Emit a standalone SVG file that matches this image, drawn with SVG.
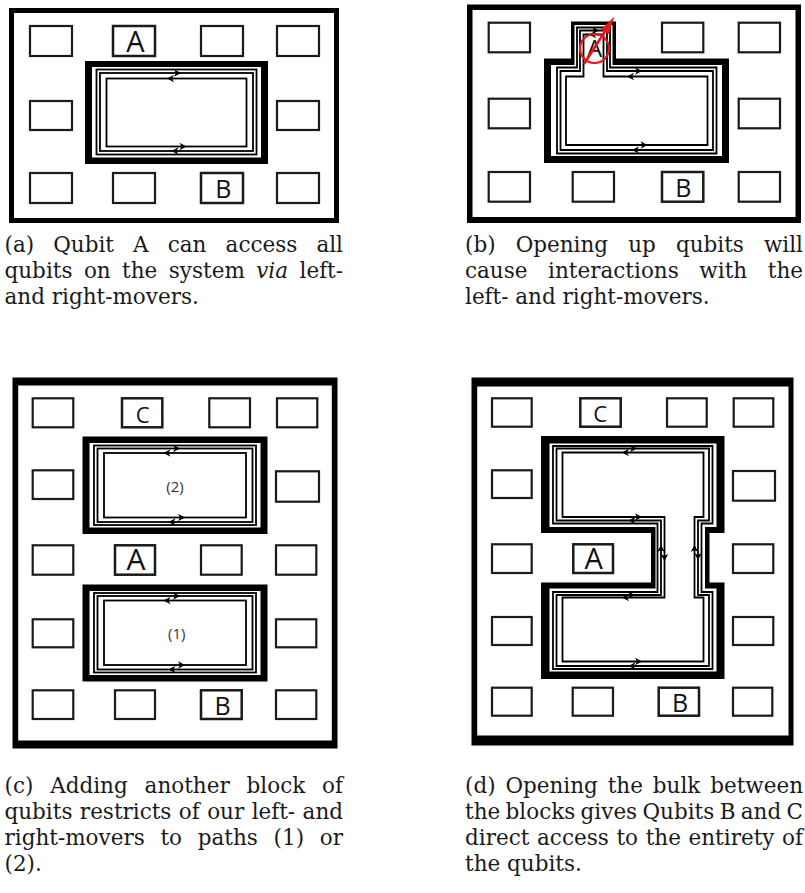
<svg xmlns="http://www.w3.org/2000/svg" xmlns:xlink="http://www.w3.org/1999/xlink" width="805" height="893" viewBox="0 0 805 893">
<style>
.bg{fill:#fff}
.frame{fill:#000;fill-rule:evenodd}
.bulk{fill:#000;fill-rule:evenodd}
.q{fill:#fff;stroke:#1a1a1a;stroke-width:2.2}
.ql{stroke-width:2.5}
.edge{fill:none;stroke:#000;stroke-width:1.8;stroke-linejoin:miter}
.lbl{font-family:"Open Sans","Noto Sans",sans-serif;fill:#111;text-anchor:middle}
.num{font-family:"Open Sans","Noto Sans",sans-serif;fill:#333;text-anchor:middle;font-size:15px}
.cap{font-family:"DejaVu Serif","Liberation Serif",serif;font-size:21.5px;fill:#1a1a1a}
.ah{fill:#000}
.red{fill:none;stroke:#e8141b;stroke-width:2.2}
</style>
<defs>
<path id="ahR" class="ah" d="M0,0 L-7,-3.8 L-5,0 L-7,3.8 Z"/>
<path id="ahL" class="ah" d="M0,0 L7,-3.8 L5,0 L7,3.8 Z"/>
<path id="ahU" class="ah" d="M0,0 L-3.8,7 L0,5 L3.8,7 Z"/>
<path id="ahD" class="ah" d="M0,0 L-3.8,-7 L0,-5 L3.8,-7 Z"/>
</defs>
<rect class="bg" x="0" y="0" width="805" height="893"/>

<!-- Panel (a) -->
<g id="panel-a">
  <path id="a-frame" class="frame" d="M9,8 H339 V223 H9 Z M14,13 V218 H334 V13 Z"/>
  <g id="a-q1"><rect class="q" x="30" y="26" width="42" height="30"/></g>
  <g id="a-qA"><rect class="q ql" x="113" y="26" width="42" height="30"/><text class="lbl" x="135.3" y="52.3" font-size="29">A</text></g>
  <g id="a-q3"><rect class="q" x="201" y="26" width="42" height="30"/></g>
  <g id="a-q4"><rect class="q" x="277" y="26" width="42" height="30"/></g>
  <g id="a-q5"><rect class="q" x="30" y="101" width="42" height="29"/></g>
  <g id="a-q6"><rect class="q" x="277" y="101" width="42" height="29"/></g>
  <g id="a-q7"><rect class="q" x="30" y="173" width="42" height="30"/></g>
  <g id="a-q8"><rect class="q" x="113" y="173" width="42" height="30"/></g>
  <g id="a-qB"><rect class="q ql" x="201" y="173" width="42" height="30"/><text class="lbl" x="223.3" y="198.3" font-size="25">B</text></g>
  <g id="a-q10"><rect class="q" x="277" y="173" width="42" height="30"/></g>
  <g id="a-bulk"><path class="bulk" d="M85,61 H268 V164 H85 Z M92,67 V157.5 H261 V67 Z"/></g>
  <g id="a-connectors">
    <rect class="edge" x="96.5" y="69.5" width="160" height="85"/>
    <rect class="edge" x="100" y="73" width="153" height="78"/>
    <rect class="edge" x="106.5" y="78.5" width="140" height="68"/>
    <use xlink:href="#ahR" x="181" y="73"/>
    <use xlink:href="#ahL" x="167" y="78.5"/>
    <use xlink:href="#ahR" x="186.5" y="146.5"/>
    <use xlink:href="#ahL" x="171.5" y="151"/>
  </g>
  <g id="a-caption">
    <text class="cap" x="4.5" y="251.5" word-spacing="12.3" textLength="338.5" lengthAdjust="spacing">(a) Qubit A can access all</text>
    <text class="cap" x="4.5" y="277.8" word-spacing="4.6" textLength="338.5" lengthAdjust="spacing">qubits on the system <tspan font-style="italic">via</tspan> left-</text>
    <text class="cap" x="4.5" y="304.1">and right-movers.</text>
  </g>
</g>

<!-- Panel (b) -->
<g id="panel-b">
  <path id="b-frame" class="frame" d="M467,4.5 H801 V223 H467 Z M472.5,10 V217 H795.5 V10 Z"/>
  <g id="b-q1"><rect class="q" x="488.7" y="22.7" width="41.3" height="29.6"/></g>
  <g id="b-q3"><rect class="q" x="662" y="22.7" width="41.3" height="29.6"/></g>
  <g id="b-q4"><rect class="q" x="738.7" y="22.7" width="41.3" height="29.6"/></g>
  <g id="b-q5"><rect class="q" x="488.7" y="98.7" width="41.3" height="29.6"/></g>
  <g id="b-q6"><rect class="q" x="738.7" y="98.7" width="41.3" height="29.6"/></g>
  <g id="b-q7"><rect class="q" x="488.7" y="172" width="41.3" height="29.7"/></g>
  <g id="b-q8"><rect class="q" x="572.7" y="172" width="41.3" height="29.7"/></g>
  <g id="b-qB"><rect class="q ql" x="662" y="172" width="41.3" height="29.7"/><text class="lbl" x="683.3" y="196.7" font-size="25">B</text></g>
  <g id="b-q10"><rect class="q" x="738.7" y="172" width="41.3" height="29.7"/></g>
  <g id="b-bulk"><path class="bulk" d="M544,58.5 H571 V21.5 H616 V58.5 H729 V163 H544 Z M551,65 V156 H722 V65 H612.5 V25 H574.5 V65 Z"/></g>
  <g id="b-connectors">
    <path class="edge" d="M557,153.5 V67.5 H577 V27.5 H610 V67.5 H716.5 V153.5 Z"/>
    <path class="edge" d="M560.5,150 V71 H580 V30.5 H607 V71 H713 V150 Z"/>
    <path class="edge" d="M566,145 V76.5 H583.5 V34.5 H603.5 V76.5 H707.5 V145 Z"/>
    <use xlink:href="#ahR" x="599" y="30.5"/>
    <use xlink:href="#ahL" x="589" y="34.5"/>
    <use xlink:href="#ahR" x="642" y="71"/>
    <use xlink:href="#ahL" x="627" y="76.5"/>
    <use xlink:href="#ahR" x="647.5" y="145"/>
    <use xlink:href="#ahL" x="632" y="150"/>
  </g>
  <g id="b-qA">
    <text class="lbl" x="594.5" y="57" font-size="24">A</text>
    <circle class="red" cx="594.5" cy="48.5" r="14.5"/>
    <line x1="584" y1="64" x2="606" y2="29.8" stroke="#e8141b" stroke-width="2.6"/>
    <polygon points="614.5,16.5 608.6,34.1 601,29.3" fill="#e8141b"/>
  </g>
  <g id="b-caption">
    <text class="cap" x="465" y="251.5" word-spacing="13.3" textLength="338" lengthAdjust="spacing">(b) Opening up qubits will</text>
    <text class="cap" x="465" y="277.8" word-spacing="13.8" textLength="338" lengthAdjust="spacing">cause interactions with the</text>
    <text class="cap" x="465" y="304.1">left- and right-movers.</text>
  </g>
</g>

<!-- Panel (c) -->
<g id="panel-c">
  <path id="c-frame" class="frame" d="M12.5,377.5 H337.5 V748.5 H12.5 Z M18.2,385.5 V740.5 H331.8 V385.5 Z"/>
  <g id="c-q1"><rect class="q" x="32.7" y="398.3" width="40.6" height="29"/></g>
  <g id="c-qC"><rect class="q ql" x="122" y="398.3" width="40.3" height="29"/><text class="lbl" x="142.7" y="422.7" font-size="22">C</text></g>
  <g id="c-q3"><rect class="q" x="209.3" y="398.3" width="40.7" height="29"/></g>
  <g id="c-q4"><rect class="q" x="277" y="398.3" width="40.3" height="29"/></g>
  <g id="c-q5"><rect class="q" x="32.7" y="470.3" width="40.6" height="28.7"/></g>
  <g id="c-q6"><rect class="q" x="276" y="471.3" width="43" height="30.4"/></g>
  <g id="c-q7"><rect class="q" x="32.7" y="545.3" width="40.6" height="29.4"/></g>
  <g id="c-qA"><rect class="q ql" x="115" y="545.3" width="40" height="29.4"/><text class="lbl" x="136" y="569.5" font-size="30">A</text></g>
  <g id="c-q9"><rect class="q" x="201" y="545.3" width="40.7" height="29.4"/></g>
  <g id="c-q10"><rect class="q" x="276" y="545.3" width="40.3" height="29.4"/></g>
  <g id="c-q11"><rect class="q" x="32.7" y="619.3" width="40.6" height="28"/></g>
  <g id="c-q12"><rect class="q" x="276" y="619.3" width="40.3" height="28"/></g>
  <g id="c-q13"><rect class="q" x="32.7" y="690.3" width="40.6" height="28.7"/></g>
  <g id="c-q14"><rect class="q" x="115" y="690.3" width="40" height="28.7"/></g>
  <g id="c-qB"><rect class="q ql" x="201" y="690.3" width="40.7" height="28.7"/><text class="lbl" x="222.7" y="715" font-size="25">B</text></g>
  <g id="c-q16"><rect class="q" x="276" y="690.3" width="40.3" height="28.7"/></g>
  <g id="c-bulk2"><path class="bulk" d="M82.5,436.5 H267.5 V534 H82.5 Z M89.5,443 V527.5 H260.5 V443 Z"/><text class="num" x="175" y="492">(2)</text></g>
  <g id="c-bulk1"><path class="bulk" d="M82.5,584.5 H267.5 V681.5 H82.5 Z M89.5,591 V675 H260.5 V591 Z"/><text class="num" x="176.7" y="638.5">(1)</text></g>
  <g id="c-connectors">
    <rect class="edge" x="94" y="445.5" width="162" height="79.5"/>
    <rect class="edge" x="97.5" y="448.5" width="155" height="73.5"/>
    <rect class="edge" x="104" y="453" width="142" height="64.5"/>
    <use xlink:href="#ahR" x="180" y="448.5"/>
    <use xlink:href="#ahL" x="163.5" y="453"/>
    <use xlink:href="#ahR" x="185" y="517.5"/>
    <use xlink:href="#ahL" x="168.5" y="522"/>
    <rect class="edge" x="94" y="593" width="162" height="79.5"/>
    <rect class="edge" x="97.5" y="596" width="155" height="73.5"/>
    <rect class="edge" x="104" y="600.5" width="142" height="64.5"/>
    <use xlink:href="#ahR" x="180" y="596"/>
    <use xlink:href="#ahL" x="163.5" y="600.5"/>
    <use xlink:href="#ahR" x="185" y="665"/>
    <use xlink:href="#ahL" x="168.5" y="669.5"/>
  </g>
  <g id="c-caption">
    <text class="cap" x="4.5" y="792.5" word-spacing="10" textLength="338.5" lengthAdjust="spacing">(c) Adding another block of</text>
    <text class="cap" x="4.5" y="818.8" word-spacing="0.6" textLength="338.5" lengthAdjust="spacing">qubits restricts of our left- and</text>
    <text class="cap" x="4.5" y="845.1" word-spacing="8.9" textLength="338.5" lengthAdjust="spacing">right-movers to paths (1) or</text>
    <text class="cap" x="4.5" y="871.4">(2).</text>
  </g>
</g>

<!-- Panel (d) -->
<g id="panel-d">
  <path id="d-frame" class="frame" d="M471.5,377.5 H793.5 V745.5 H471.5 Z M477.2,386.5 V735.5 H788.5 V386.5 Z"/>
  <g id="d-q1"><rect class="q" x="492" y="398.3" width="39.7" height="28.4"/></g>
  <g id="d-qC"><rect class="q ql" x="580.3" y="398.3" width="40.4" height="28.4"/><text class="lbl" x="600.3" y="422.3" font-size="22">C</text></g>
  <g id="d-q3"><rect class="q" x="667" y="398.3" width="39.7" height="28.4"/></g>
  <g id="d-q4"><rect class="q" x="733.7" y="398.3" width="39.6" height="28.4"/></g>
  <g id="d-q5"><rect class="q" x="492" y="470.3" width="39.7" height="27.7"/></g>
  <g id="d-q6"><rect class="q" x="733" y="471" width="42" height="29.7"/></g>
  <g id="d-q7"><rect class="q" x="492" y="544.3" width="39.7" height="28.7"/></g>
  <g id="d-qA"><rect class="q ql" x="573.3" y="544.3" width="39.7" height="28.7"/><text class="lbl" x="593.7" y="568.5" font-size="29">A</text></g>
  <g id="d-q9"><rect class="q" x="733" y="544.3" width="40.3" height="28.7"/></g>
  <g id="d-q10"><rect class="q" x="492" y="617" width="39.7" height="28"/></g>
  <g id="d-q11"><rect class="q" x="733" y="617" width="40.3" height="28"/></g>
  <g id="d-q12"><rect class="q" x="492" y="687.7" width="39.7" height="28"/></g>
  <g id="d-q13"><rect class="q" x="572.7" y="687.7" width="40.3" height="28"/></g>
  <g id="d-qB"><rect class="q ql" x="658.7" y="687.7" width="40.3" height="28"/><text class="lbl" x="680" y="711.7" font-size="25">B</text></g>
  <g id="d-q15"><rect class="q" x="733" y="687.7" width="39.3" height="28"/></g>
  <g id="d-bulk"><path class="bulk" d="M541,436 H724.5 V533 H709.5 V582.5 H724.5 V679 H541 V582.5 H651 V533 H541 Z M549.5,443.5 H716.5 V527 H705 V588.5 H716.5 V671.5 H549.5 V588.5 H655.5 V527 H549.5 Z"/></g>
  <g id="d-connectors">
    <path class="edge" d="M553,446 H712.5 V523.5 H701.5 V592 H712.5 V669 H553 V592 H657.5 V523.5 H553 Z"/>
    <path class="edge" d="M556.5,448.5 H709 V520.5 H698 V595 H709 V666 H556.5 V595 H661 V520.5 H556.5 Z"/>
    <path class="edge" d="M562.5,452.5 H703.5 V517 H694.5 V597.5 H703.5 V661.5 H562.5 V597.5 H664.5 V517 H562.5 Z"/>
    <use xlink:href="#ahR" x="637" y="448.5"/>
    <use xlink:href="#ahL" x="622" y="452.5"/>
    <use xlink:href="#ahR" x="642" y="517"/>
    <use xlink:href="#ahL" x="628.5" y="520.5"/>
    <use xlink:href="#ahR" x="635" y="595"/>
    <use xlink:href="#ahL" x="622" y="597.5"/>
    <use xlink:href="#ahR" x="642" y="661.5"/>
    <use xlink:href="#ahL" x="628.5" y="666"/>
    <use xlink:href="#ahU" x="661" y="545"/>
    <use xlink:href="#ahD" x="664.5" y="561"/>
    <use xlink:href="#ahU" x="694.5" y="545"/>
    <use xlink:href="#ahD" x="698" y="560"/>
  </g>
  <g id="d-caption">
    <text class="cap" x="465" y="792.5" word-spacing="3" textLength="338" lengthAdjust="spacing">(d) Opening the bulk between</text>
    <text class="cap" x="465" y="818.8" word-spacing="-1.5" textLength="338" lengthAdjust="spacing">the blocks gives Qubits B and C</text>
    <text class="cap" x="465" y="845.1" word-spacing="0.8" textLength="338" lengthAdjust="spacing">direct access to the entirety of</text>
    <text class="cap" x="465" y="871.4">the qubits.</text>
  </g>
</g>
</svg>
